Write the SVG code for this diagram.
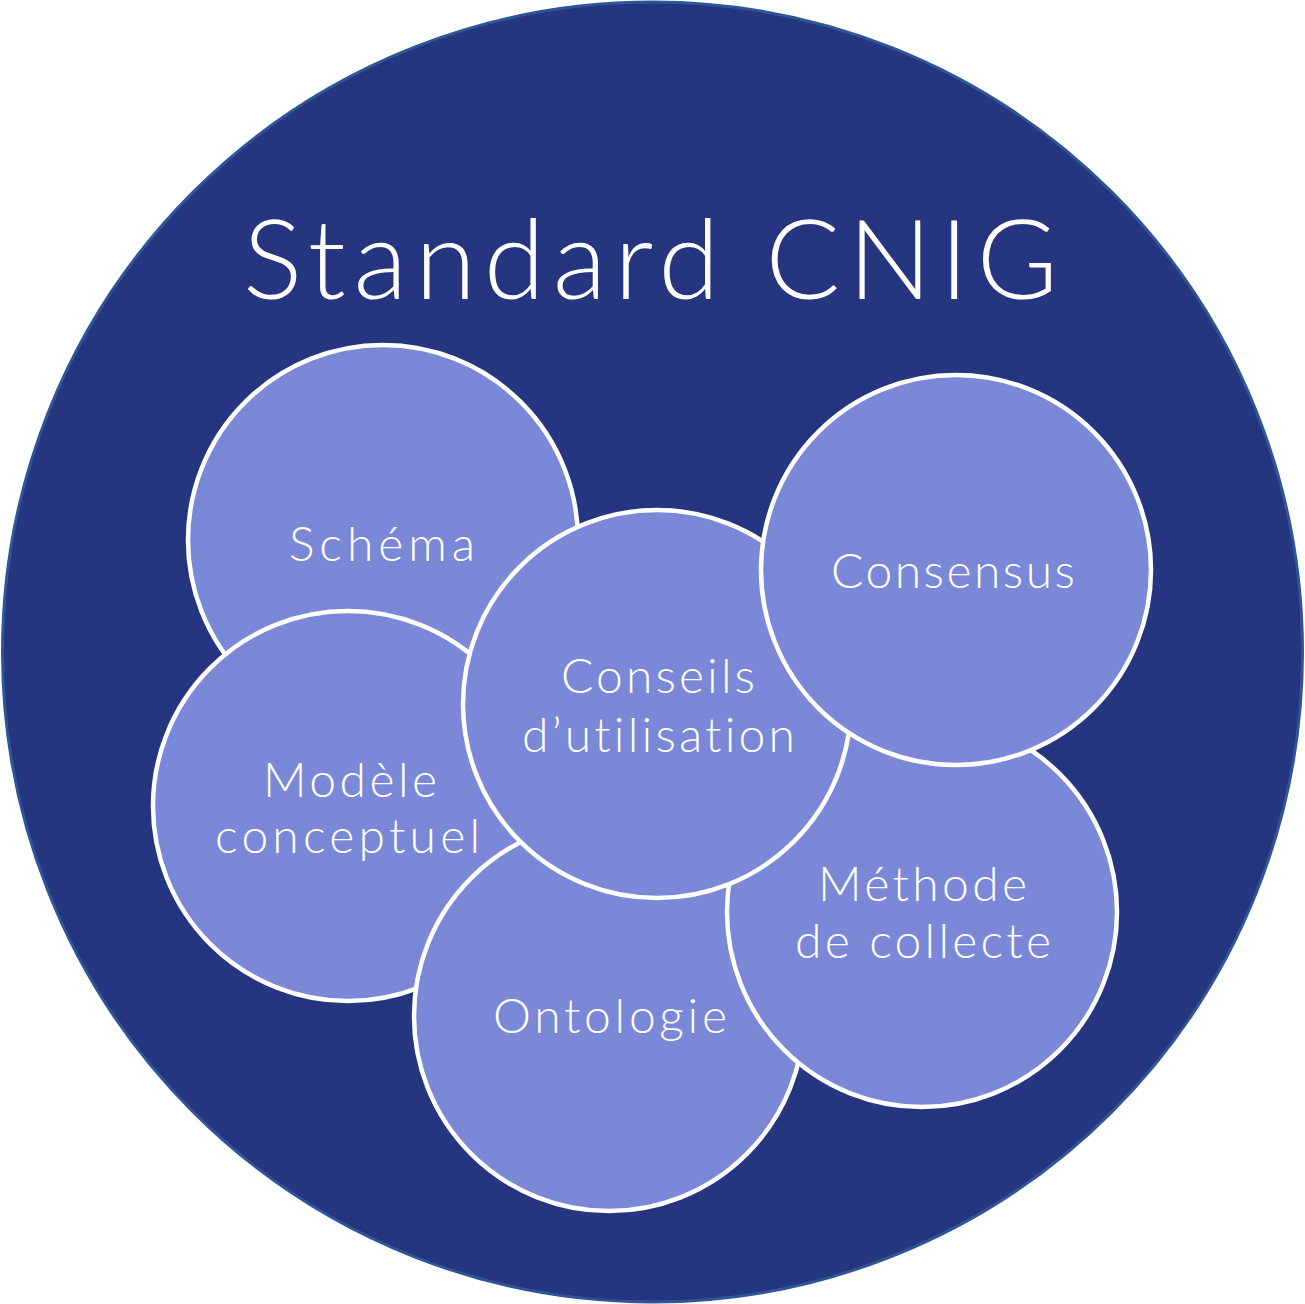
<svg xmlns="http://www.w3.org/2000/svg" width="1305" height="1304" viewBox="0 0 1305 1304">
<style>
.bg{fill:#263580;stroke:#2E5595;stroke-width:3}
.c{fill:#7B87D7;stroke:#FFFFFF;stroke-width:4.5}
.t{font-family:Lato,"Open Sans","Liberation Sans",sans-serif;font-weight:300;fill:#FFFFFF;text-anchor:middle;font-size:48px;font-variant-ligatures:none}
.title{font-size:111px}
</style>
<rect width="1305" height="1304" fill="#FFFFFF"/>
<g id="standard-cnig">
<circle class="bg" cx="652.5" cy="652" r="650"/>
<text class="t title" x="650.5" y="299" textLength="815" lengthAdjust="spacing">Standard CNIG</text>
</g>
<g id="schema">
<circle class="c" cx="383" cy="540" r="195"/>
<text class="t" x="382" y="561" textLength="186" lengthAdjust="spacing">Schéma</text>
</g>
<g id="modele">
<circle class="c" cx="348" cy="806" r="195"/>
<text class="t" x="350" y="797" textLength="174" lengthAdjust="spacing">Modèle</text>
<text class="t" x="347.5" y="853" textLength="265" lengthAdjust="spacing">conceptuel</text>
</g>
<g id="ontologie">
<circle class="c" cx="609" cy="1016" r="195"/>
<text class="t" x="610" y="1033" textLength="234" lengthAdjust="spacing">Ontologie</text>
</g>
<g id="methode">
<circle class="c" cx="922" cy="912" r="195"/>
<text class="t" x="922.5" y="901" textLength="209" lengthAdjust="spacing">Méthode</text>
<text class="t" x="923" y="958" textLength="256" lengthAdjust="spacing">de collecte</text>
</g>
<g id="conseils">
<circle class="c" cx="657" cy="704" r="194"/>
<text class="t" x="658" y="693" textLength="194" lengthAdjust="spacing">Conseils</text>
<text class="t" x="658.5" y="752" textLength="273" lengthAdjust="spacing">d’utilisation</text>
</g>
<g id="consensus">
<circle class="c" cx="956" cy="570" r="195"/>
<text class="t" x="953" y="588" textLength="244" lengthAdjust="spacing">Consensus</text>
</g>
<g id="connectors"></g>
</svg>
